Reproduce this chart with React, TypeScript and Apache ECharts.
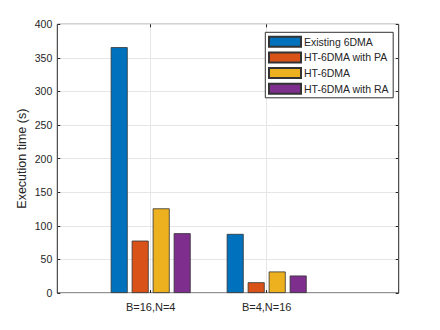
import React, { useEffect, useRef } from "react";
import * as echarts from "echarts";

const categories = ["B=16,N=4", "B=4,N=16"];
const seriesNames = ["Existing 6DMA", "HT-6DMA with PA", "HT-6DMA", "HT-6DMA with RA"];
const existing6DMA = [366, 88];
const ht6DMAwithPA = [78, 16];
const ht6DMA = [126, 32];
const ht6DMAwithRA = [89, 26];
const colors = ["#0072BD", "#D95319", "#EDB120", "#7E2F8E"];

export default function App() {
  const ref = useRef<HTMLDivElement>(null);
  useEffect(() => {
    if (!ref.current) return;
    const chart = echarts.init(ref.current, undefined, { renderer: "svg" });
    const font = "Liberation Sans";
    const axisColor = "#262626";
    const gridColor = "#e6e6e6";
    const seriesData = [existing6DMA, ht6DMAwithPA, ht6DMA, ht6DMAwithRA];
    chart.setOption({
      animation: false,
      backgroundColor: "#ffffff",
      textStyle: { fontFamily: font },
      grid: [
        { left: 57.3, right: 41.3, top: 24.3, bottom: 37, show: true, borderColor: axisColor, borderWidth: 1, backgroundColor: "transparent" },
        { left: 150.7, width: 116, top: 24.3, bottom: 37 },
      ],
      xAxis: [
        { gridIndex: 0, type: "value", min: 0, max: 1, show: false },
        {
          gridIndex: 1,
          type: "category",
          data: categories,
          boundaryGap: false,
          axisLine: { show: false },
          axisTick: { show: true, inside: true, length: 3, lineStyle: { color: axisColor } },
          axisLabel: { fontSize: 11, color: axisColor, margin: 8, fontFamily: font },
          splitLine: { show: true, lineStyle: { color: gridColor, width: 1 } },
        },
        {
          gridIndex: 1,
          type: "category",
          data: categories,
          boundaryGap: false,
          position: "top",
          axisLine: { show: false },
          axisTick: { show: true, inside: true, length: 3, lineStyle: { color: axisColor } },
          axisLabel: { show: false },
          splitLine: { show: false },
        },
      ],
      yAxis: [
        {
          gridIndex: 0,
          type: "value",
          min: 0,
          max: 400,
          interval: 50,
          position: "left",
          name: "Execution time (s)",
          nameLocation: "middle",
          nameGap: 29,
          nameMoveOverlap: false,
          nameTextStyle: { fontSize: 12.5, color: axisColor, fontFamily: font },
          axisLine: { show: false },
          axisTick: { show: true, inside: true, length: 3, lineStyle: { color: axisColor } },
          axisLabel: { fontSize: 10.5, color: axisColor, margin: 5, fontFamily: font },
          splitLine: { show: true, lineStyle: { color: gridColor, width: 1 } },
        },
        {
          gridIndex: 0,
          type: "value",
          min: 0,
          max: 400,
          interval: 50,
          position: "right",
          axisLine: { show: false },
          axisTick: { show: true, inside: true, length: 3, lineStyle: { color: axisColor } },
          axisLabel: { show: false },
          splitLine: { show: false },
        },
        { gridIndex: 1, type: "value", min: 0, max: 400, show: false },
      ],
      legend: {
        orient: "vertical",
        left: 265.3,
        top: 32.3,
        itemWidth: 32,
        itemHeight: 10,
        itemGap: 3.7,
        padding: [3.4, 4, 3, 2.7],
        borderColor: "#333333",
        borderWidth: 1,
        backgroundColor: "#ffffff",
        icon: "rect",
        textStyle: { fontSize: 10.5, color: axisColor, fontFamily: font, padding: [0, 0, 0, -2] },
        data: seriesNames,
      },
      series: seriesNames.map((name, i) => ({
        name,
        type: "bar",
        xAxisIndex: 1,
        yAxisIndex: 2,
        data: seriesData[i],
        barWidth: 17,
        barGap: "23.5%",
        clip: false,
        itemStyle: { color: colors[i], borderColor: "#333333", borderWidth: 0.8 },
      })),
    });
    return () => chart.dispose();
  }, []);
  return <div ref={ref} style={{ position: "fixed", left: 0, top: 0, width: 440, height: 330 }} />;
}
